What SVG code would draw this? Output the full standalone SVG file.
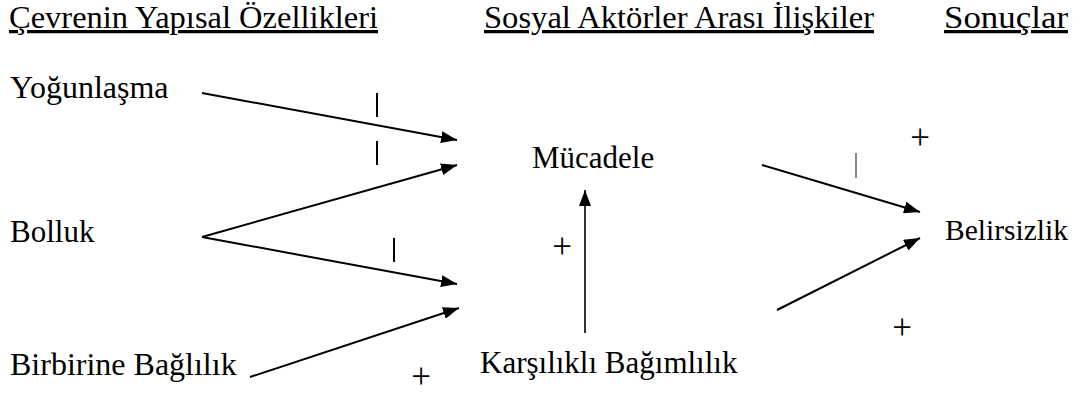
<svg xmlns="http://www.w3.org/2000/svg" width="1083" height="396" viewBox="0 0 1083 396">
<style>
.h{font-family:"Liberation Serif","Times New Roman",serif;font-size:32.5px;fill:#000;text-decoration:underline}
.t{font-family:"Liberation Serif","Times New Roman",serif;font-size:31px;fill:#000}
.s{font-family:"Liberation Serif","Times New Roman",serif;font-size:35px;fill:#000;text-anchor:middle}
.c{stroke:#000;stroke-width:2;fill:none;marker-end:url(#ah)}
.bar{stroke:#000;stroke-width:2}
</style>
<defs>
<marker id="ah" viewBox="0 0 16 12" refX="16" refY="6" markerWidth="16" markerHeight="12" markerUnits="userSpaceOnUse" orient="auto">
<path d="M0,0 L16,6 L0,12 z" fill="#000"/>
</marker>
</defs>
<rect width="1083" height="396" fill="#fff"/>
<g id="headers">
<text class="h" x="9" y="28" textLength="369" lengthAdjust="spacingAndGlyphs">Çevrenin Yapısal Özellikleri</text>
<text class="h" x="484" y="28" textLength="390" lengthAdjust="spacingAndGlyphs">Sosyal Aktörler Arası İlişkiler</text>
<text class="h" x="944" y="28" textLength="124" lengthAdjust="spacingAndGlyphs">Sonuçlar</text>
</g>
<g id="yogunlasma"><text class="t" x="10" y="98" style="font-size:32px">Yoğunlaşma</text></g>
<g id="bolluk"><text class="t" x="10" y="242">Bolluk</text></g>
<g id="birbirine"><text class="t" x="10" y="375" style="font-size:32px">Birbirine Bağlılık</text></g>
<g id="mucadele"><text class="t" x="532" y="168">Mücadele</text></g>
<g id="karsilikli"><text class="t" x="480" y="373">Karşılıklı Bağımlılık</text></g>
<g id="belirsizlik"><text class="t" x="945" y="240" style="font-size:29.5px">Belirsizlik</text></g>
<g id="connectors">
<line class="c" x1="202" y1="93" x2="457" y2="140"/>
<line class="c" x1="202" y1="237" x2="457" y2="165"/>
<line class="c" x1="202" y1="237" x2="457" y2="284"/>
<line class="c" x1="250" y1="377" x2="459" y2="308"/>
<line class="c" style="stroke-width:1.6" x1="585" y1="333" x2="585" y2="190"/>
<line class="c" x1="762" y1="165" x2="920" y2="212"/>
<line class="c" x1="777" y1="310" x2="920" y2="238"/>
</g>
<g id="signs">
<line class="bar" x1="377" y1="93" x2="377" y2="117"/>
<line class="bar" x1="377" y1="141" x2="377" y2="165"/>
<line class="bar" x1="394" y1="238" x2="394" y2="262"/>
<line class="bar" style="stroke-width:1.2;stroke:#333" x1="856" y1="153" x2="856" y2="178"/>
<text class="s" x="562" y="258">+</text>
<text class="s" x="421" y="388">+</text>
<text class="s" x="920" y="149">+</text>
<text class="s" x="902" y="339">+</text>
</g>
</svg>
